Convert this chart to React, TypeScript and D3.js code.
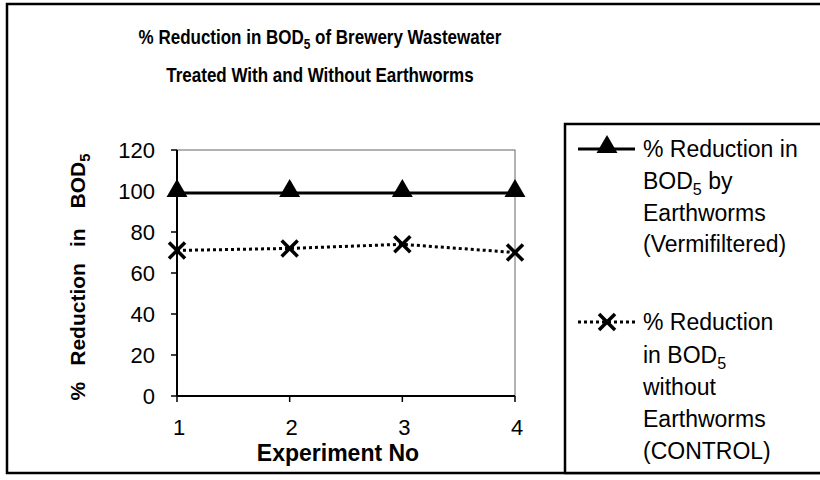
import * as d3 from "d3"

const experiments = [1, 2, 3, 4]
const vermiValues = [99, 99, 99, 99]
const controlValues = [71, 72, 74, 70]
const yTicks = [0, 20, 40, 60, 80, 100, 120]

const W = 820
const H = 480
const FONT = "Arial, 'Liberation Sans', sans-serif"

const x = d3.scaleLinear().domain([1, 4]).range([177, 515])
const y = d3.scaleLinear().domain([0, 120]).range([396, 150])

const lineGen = d3
  .line<number>()
  .x((_, i) => x(experiments[i]))
  .y((d) => y(d))

const triangle = d3.symbol().type(d3.symbolTriangle).size(190)

function XMark({ cx, cy }: { cx: number; cy: number }) {
  const r = 8
  return (
    <g stroke="#000" strokeWidth={3.5}>
      <line x1={cx - r} y1={cy - r} x2={cx + r} y2={cy + r} />
      <line x1={cx - r} y1={cy + r} x2={cx + r} y2={cy - r} />
    </g>
  )
}

function Bod({ size }: { size: number }) {
  return (
    <>
      BOD
      <tspan fontSize={size * 0.7} dy={size * 0.25}>
        5
      </tspan>
    </>
  )
}

export default function App() {
  const legendX = 565
  const legendTop = 124
  const lx1 = 578
  const lx2 = 635
  const lmid = 607
  const tx = 643
  const lfs = 23
  const item1 = ["% Reduction in", "BOD5 by", "Earthworms", "(Vermifiltered)"]
  const item1Y = [149, 181, 213, 244]
  const item2 = ["% Reduction", "in BOD5", "without", "Earthworms", "(CONTROL)"]
  const item2Y = [322, 355, 387, 419, 451]

  const renderLegendLine = (t: string, yy: number, key: number) => {
    if (t.includes("BOD5")) {
      const [pre, post] = t.split("BOD5")
      return (
        <text key={key} x={tx} y={yy} dy="0.35em" fontSize={lfs}>
          {pre}
          <Bod size={lfs} />
          <tspan dy={-lfs * 0.25}>{post}</tspan>
        </text>
      )
    }
    return (
      <text key={key} x={tx} y={yy} dy="0.35em" fontSize={lfs}>
        {t}
      </text>
    )
  }

  return (
    <svg width={W} height={H} style={{ position: "absolute", left: 0, top: 0, background: "#fff" }} fontFamily={FONT}>
      {/* outer frame */}
      <rect x={7} y={4} width={830} height={469} fill="none" stroke="#000" strokeWidth={2.5} />

      {/* title, slightly condensed like the original */}
      <g transform="translate(320,0) scale(0.85,1)">
        <text x={0} y={37} dy="0.35em" textAnchor="middle" fontSize={20} fontWeight="bold">
          % Reduction in <Bod size={20} />
          <tspan dy={-20 * 0.25}> of Brewery Wastewater</tspan>
        </text>
        <text x={0} y={75} dy="0.35em" textAnchor="middle" fontSize={20} fontWeight="bold">
          Treated With and Without Earthworms
        </text>
      </g>

      {/* plot frame */}
      <rect x={x(1)} y={y(120)} width={x(4) - x(1)} height={y(0) - y(120)} fill="none" stroke="#666" strokeWidth={1} />
      <line x1={x(1)} x2={x(1)} y1={y(120)} y2={y(0)} stroke="#000" strokeWidth={2} />
      <line x1={x(1)} x2={x(4)} y1={y(0)} y2={y(0)} stroke="#000" strokeWidth={2} />

      {/* y ticks */}
      {yTicks.map((t) => (
        <g key={t}>
          <line x1={x(1) - 6} x2={x(1)} y1={y(t)} y2={y(t)} stroke="#000" strokeWidth={1.5} />
          <text x={155} y={y(t)} dy="0.35em" textAnchor="end" fontSize={22}>
            {t}
          </text>
        </g>
      ))}

      {/* x ticks */}
      {experiments.map((e) => (
        <g key={e}>
          <line x1={x(e)} x2={x(e)} y1={y(0)} y2={y(0) + 6} stroke="#000" strokeWidth={1.5} />
          <text x={x(e) + 2} y={427} dy="0.35em" textAnchor="middle" fontSize={22}>
            {e}
          </text>
        </g>
      ))}

      {/* axis titles */}
      <text x={338} y={453} dy="0.35em" textAnchor="middle" fontSize={23} fontWeight="bold">
        Experiment No
      </text>
      <text transform={`translate(85,${277}) rotate(-90)`} textAnchor="middle" fontSize={21} fontWeight="bold">
        %<tspan dx={16}>Reduction</tspan>
        <tspan dx={16}>in</tspan>
        <tspan dx={20}>
          <Bod size={21} />
        </tspan>
      </text>

      {/* series */}
      <path d={lineGen(vermiValues) ?? ""} fill="none" stroke="#000" strokeWidth={3} />
      <path d={lineGen(controlValues) ?? ""} fill="none" stroke="#000" strokeWidth={3} strokeDasharray="3,3" />
      {vermiValues.map((v, i) => (
        <path key={i} d={triangle() ?? ""} transform={`translate(${x(experiments[i])},${y(v) - 2})`} fill="#000" />
      ))}
      {controlValues.map((v, i) => (
        <XMark key={i} cx={x(experiments[i])} cy={y(v)} />
      ))}

      {/* legend */}
      <rect x={legendX} y={legendTop} width={300} height={473 - legendTop} fill="#fff" stroke="#000" strokeWidth={2.5} />
      <line x1={lx1} x2={lx2} y1={item1Y[0]} y2={item1Y[0]} stroke="#000" strokeWidth={3} />
      <path d={triangle() ?? ""} transform={`translate(${lmid},${item1Y[0] - 2})`} fill="#000" />
      {item1.map((t, i) => renderLegendLine(t, item1Y[i], i))}

      <line x1={lx1} x2={lx2} y1={item2Y[0]} y2={item2Y[0]} stroke="#000" strokeWidth={3} strokeDasharray="3,3" />
      <XMark cx={lmid} cy={item2Y[0]} />
      {item2.map((t, i) => renderLegendLine(t, item2Y[i], i + 10))}
    </svg>
  )
}
